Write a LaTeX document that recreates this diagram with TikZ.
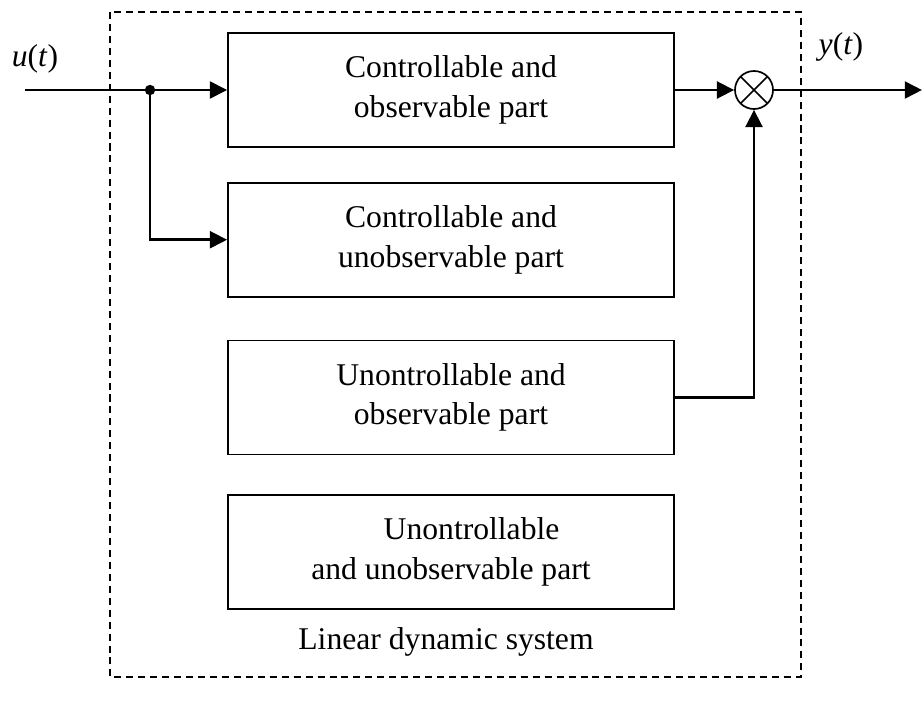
\documentclass[tikz,border=0pt]{standalone}
\usepackage{fontspec}
\setmainfont{Liberation Serif}
\usepackage{tikz}
\usetikzlibrary{arrows.meta,positioning}

\begin{document}
\begin{tikzpicture}[
    x=0.025cm, y=-0.025cm,
    node distance=0.9cm,
    part/.style={draw, line width=1.2pt, minimum width=11.15cm, minimum height=2.85cm, align=center, font=\fontsize{22.5}{28}\selectfont},
    label/.style={font=\fontsize{22.5}{26}\selectfont},
    arrow/.style={line width=2pt,-{Triangle[length=4.3mm,width=4.2mm]}},
    wire/.style={line width=2pt}
]
    \useasboundingbox (0,0) rectangle (922,704);

    % system boundary
    \draw [line width=1.1pt, dash pattern=on 5pt off 3.5pt] (110,12) rectangle (801,677);

    \node (co) [part] at (451,90) {Controllable and\\observable part};
    \node (cu) [part, below=0.85cm of co] {Controllable and\\unobservable part};
    \node (uo) [part, below=1.05cm of cu] {Unontrollable and\\observable part};
    \node (uu) [part, below=0.97cm of uo] {\hspace*{1.3em}Unontrollable\\and unobservable part};

    \node (mult) [circle, draw, line width=1.2pt, minimum size=0.95cm, inner sep=0pt,
        path picture={\draw [line width=1.2pt] (path picture bounding box.north west) -- (path picture bounding box.south east)
                      (path picture bounding box.north east) -- (path picture bounding box.south west);}] at (754,90) {};

    \node (sys) [label] at (446,642) {Linear dynamic system};
    \node (u) [label] at (35,59) {\textit{u}(\textit{t})};
    \node (y) [label] at (841,47) {\textit{y}(\textit{t})};

    \coordinate (in) at (25,90);
    \coordinate (split) at (150,90);
    \coordinate (out) at (922,90);

    \draw [arrow] (in) -- (co);
    \fill (split) circle (0.13cm);
    \draw [arrow] (split) |- (cu);
    \draw [arrow] (co) -- (mult);
    \draw [arrow] (uo.east) -| (mult.south);
    \draw [arrow] (mult) -- (out);
\end{tikzpicture}
\end{document}
